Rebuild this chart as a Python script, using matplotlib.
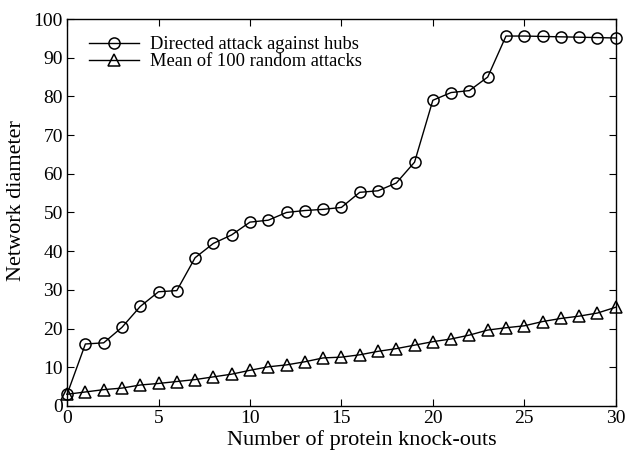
import matplotlib.pyplot as plt

plt.rcParams['font.family'] = ['Liberation Serif', 'DejaVu Serif']

knockouts = list(range(31))
directed = [3, 16, 16.3, 20.3, 25.7, 29.5, 29.8, 38.3, 42, 44.2, 47.5,
            48, 50, 50.5, 50.8, 51.3, 55.2, 55.6, 57.6, 63, 79,
            81, 81.5, 85, 95.6, 95.6, 95.5, 95.4, 95.3, 95.2, 95.1]
random_mean = [3, 3.6, 4.2, 4.6, 5.4, 5.8, 6.3, 6.8, 7.5, 8.2, 9.2,
               10.1, 10.6, 11.4, 12.4, 12.6, 13.2, 14.1, 14.8, 15.7, 16.6,
               17.3, 18.3, 19.6, 20.2, 20.7, 21.8, 22.6, 23.2, 24.0, 25.5]

fig = plt.figure(figsize=(6.27, 4.53), dpi=100)
ax = fig.add_axes([0.107, 0.104, 0.875, 0.854])

ax.plot(knockouts, directed, color='black', lw=1, marker='o', ms=8,
        mfc='none', mec='black', mew=1.1, label='Directed attack against hubs',
        clip_on=False, zorder=3)
ax.plot(knockouts, random_mean, color='black', lw=1, marker='^', ms=8.5,
        mfc='none', mec='black', mew=1.1, label='Mean of 100 random attacks',
        clip_on=False, zorder=3)

ax.set_xlim(0, 30)
ax.set_ylim(0, 100)
ax.set_xticks(range(0, 31, 5))
ax.set_yticks(range(0, 101, 10))
ax.tick_params(direction='in', top=True, right=True, labelsize=14, length=5,
               width=0.8, pad=3)
for s in ax.spines.values():
    s.set_linewidth(1)

ax.set_xlabel('Number of protein knock-outs', fontsize=16)
ax.xaxis.set_label_coords(0.537, -0.063)
ax.set_ylabel('Network diameter', fontsize=16)
ax.yaxis.set_label_coords(-0.074, 0.53)

leg = ax.legend(loc='upper left', frameon=False, fontsize=13.3, handlelength=2.7,
                handletextpad=0.6, labelspacing=0.0, borderaxespad=0.5,
                bbox_to_anchor=(0.009, 0.998))

fig.savefig('out.png', dpi=100)
